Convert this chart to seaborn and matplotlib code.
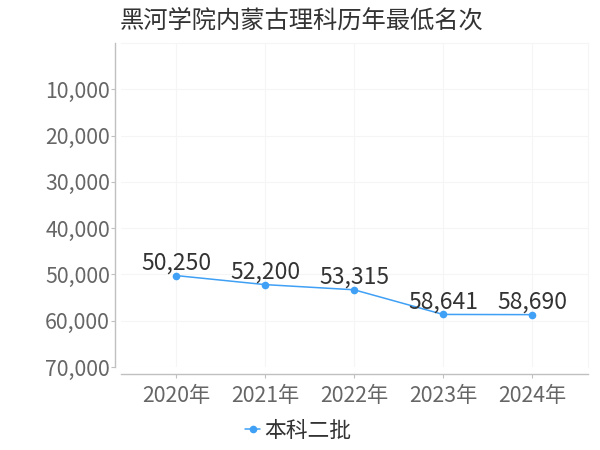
import matplotlib
matplotlib.use("Agg")
import matplotlib.pyplot as plt
import matplotlib.ticker as mticker
import seaborn as sns
import pandas as pd

years = ["2020年", "2021年", "2022年", "2023年", "2024年"]
ranks = [50250, 52200, 53315, 58641, 58690]
series_name = "本科二批"
title = "黑河学院内蒙古理科历年最低名次"
yticks = [10000, 20000, 30000, 40000, 50000, 60000, 70000]

sns.set_theme(style="white")
plt.rcParams["font.family"] = ["Noto Sans CJK SC", "DejaVu Sans"]

df = pd.DataFrame({"year": years, "rank": ranks, "batch": series_name})

fig = plt.figure(figsize=(6, 4.5), dpi=100)
ax = fig.add_axes([121/600, 1-367/450, (588-121)/600, (367-43)/450])

color = "#3fa0f5"
sns.lineplot(data=df, x="year", y="rank", hue="batch", palette=[color],
             marker="o", markersize=5.5, markeredgewidth=0, linewidth=1.1,
             ax=ax, legend=True, sort=False)

ax.set_xlim(-0.62, 4.63)
ax.set_ylim(70000, 0)
ax.set_yticks(yticks)
ax.yaxis.set_major_formatter(mticker.FuncFormatter(lambda v, p: f"{int(v):,}"))
ax.set_xlabel("")
ax.set_ylabel("")

grid_c = "#f5f5f5"
ax.grid(True, color=grid_c, linewidth=0.8)
ax.set_axisbelow(True)
for s in ["top", "right"]:
    ax.spines[s].set_color(grid_c)
    ax.spines[s].set_linewidth(0.8)
ax.spines["left"].set_position(("outward", 4))
ax.spines["bottom"].set_position(("outward", 5))
for s in ["left", "bottom"]:
    ax.spines[s].set_color("#c0c0c0")
    ax.spines[s].set_linewidth(1.0)

ax.tick_params(axis="y", which="major", left=True, length=3, width=0.8,
               color="#c0c0c0", labelsize=15.3, labelcolor="#666666", pad=1)
ax.tick_params(axis="x", which="major", bottom=True, length=3, width=0.8,
               color="#c0c0c0", labelsize=15.3, labelcolor="#666666", pad=5)

for i, v in enumerate(ranks):
    ax.annotate(f"{v:,}", (i, v), xytext=(0, 9), textcoords="offset points",
                ha="center", va="center", fontsize=16.5, color="#333333")

fig.text(0.502, 1-21/450, title, ha="center", va="center", fontsize=17.5,
         color="#333333")

ax.get_legend().remove()
handles, labels = ax.get_legend_handles_labels()
fig.legend(handles, labels, loc="center", bbox_to_anchor=(0.497, 1-431/450),
           frameon=False, fontsize=15.7, handlelength=0.7, handletextpad=0.2,
           labelcolor="#333333")

fig.savefig("out.png", dpi=100)
